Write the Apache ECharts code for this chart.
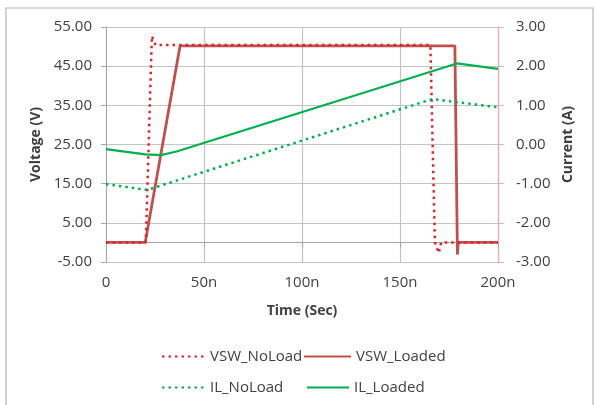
<!DOCTYPE html>
<html>
<head>
<meta charset="utf-8">
<script src="https://cdn.jsdelivr.net/npm/echarts@6/dist/echarts.min.js"></script>
<style>
  html, body { margin: 0; padding: 0; background: #fff; }
  #chart { width: 595px; height: 405px; }
</style>
</head>
<body>
<div id="chart"></div>
<script>
// Switch-node voltage and inductor current, no-load vs loaded (time in ns)
const timeTicks = [0, 50, 100, 150, 200];

const vswNoLoadT = [0, 20.3, 23.4, 24.2, 25.3, 165.5, 167.8, 169.8, 171, 200];
const vswNoLoadV = [0, 0, 52.7, 52.2, 50.4, 50.4, 0, -2.7, 0, 0];

const vswLoadedT = [0, 20.0, 37.8, 178.0, 179.3, 179.7, 200];
const vswLoadedV = [0, 0, 50.2, 50.2, -3.1, 0, 0];

const ilNoLoadT = [0, 21, 166.5, 200];
const ilNoLoadA = [-1.01, -1.16, 1.16, 0.95];

const ilLoadedT = [0, 20, 28, 36, 179, 200];
const ilLoadedA = [-0.12, -0.25, -0.27, -0.18, 2.07, 1.93];

const seriesNames = ['VSW_NoLoad', 'VSW_Loaded', 'IL_NoLoad', 'IL_Loaded'];

const zip = (xs, ys) => xs.map((x, i) => [x, ys[i]]);

const FONT = '"Open Sans", "Liberation Sans", sans-serif';
const TXT = '#404040';
const GRID = '#C4C4C4';
const RED_DOT = '#D9262E';
const RED = '#C0504D';
const GREEN = '#00B050';
const DOTS = [2.5, 4];

const legendBase = {
  orient: 'horizontal',
  itemWidth: 40,
  itemHeight: 12,
  itemGap: 5,
  itemStyle: { opacity: 0, borderWidth: 0 },
  textStyle: { fontFamily: FONT, fontSize: 15, color: TXT },
  selectedMode: false
};

const chart = echarts.init(document.getElementById('chart'), null, { renderer: 'canvas' });

chart.setOption({
  animation: false,
  backgroundColor: '#fff',
  graphic: [{
    type: 'rect',
    shape: { x: 6, y: 8, width: 587, height: 420 },
    style: { fill: 'none', stroke: '#B4B4B4', lineWidth: 1.2 },
    silent: true,
    z: -1
  }],
  grid: { left: 106, right: 97, top: 27, bottom: 143, containLabel: false },
  legend: [
    Object.assign({}, legendBase, { data: [seriesNames[0]], left: 156, top: 344, itemWidth: 43 }),
    Object.assign({}, legendBase, { data: [seriesNames[1]], left: 298, top: 344, itemWidth: 47 }),
    Object.assign({}, legendBase, { data: [seriesNames[2]], left: 156, top: 375, itemWidth: 43 }),
    Object.assign({}, legendBase, { data: [seriesNames[3]], left: 301, top: 375, itemWidth: 42 })
  ],
  xAxis: {
    type: 'value',
    min: timeTicks[0],
    max: timeTicks[timeTicks.length - 1],
    interval: 50,
    name: 'Time (Sec)',
    nameLocation: 'middle',
    nameGap: 42,
    nameTextStyle: { fontFamily: FONT, fontSize: 14, fontWeight: 'bold', color: TXT },
    axisLine: { lineStyle: { color: '#A6A6A6', width: 1 } },
    axisTick: { show: true, length: 5, lineStyle: { color: '#A6A6A6' } },
    axisLabel: {
      margin: 13,
      fontFamily: FONT, fontSize: 15, color: TXT,
      formatter: v => (v === 0 ? '0' : v + 'n')
    },
    splitLine: { show: true, lineStyle: { color: GRID, width: 1.2 } }
  },
  yAxis: [{
    type: 'value',
    position: 'left',
    min: -5,
    max: 55,
    interval: 10,
    name: 'Voltage (V)',
    nameLocation: 'middle',
    nameRotate: 90,
    nameGap: 59,
    nameTextStyle: { fontFamily: FONT, fontSize: 14, fontWeight: 'bold', color: TXT },
    axisLine: { show: true, lineStyle: { color: '#A6A6A6', width: 1 } },
    axisTick: { show: true, length: 5, lineStyle: { color: '#A6A6A6' } },
    axisLabel: {
      margin: 14,
      fontFamily: FONT, fontSize: 15, color: TXT,
      formatter: v => v.toFixed(2)
    },
    splitLine: { show: true, lineStyle: { color: GRID, width: 1.2 } }
  }, {
    type: 'value',
    position: 'right',
    min: -3,
    max: 3,
    interval: 1,
    name: 'Current (A)',
    nameLocation: 'middle',
    nameRotate: 90,
    nameGap: 60,
    nameTextStyle: { fontFamily: FONT, fontSize: 14, fontWeight: 'bold', color: TXT },
    axisLine: { show: true, lineStyle: { color: '#E6B0AF', width: 1.2 } },
    axisTick: { show: true, length: 6, lineStyle: { color: '#E6B0AF' } },
    axisLabel: {
      margin: 18,
      fontFamily: FONT, fontSize: 15, color: TXT,
      formatter: v => v.toFixed(2)
    },
    splitLine: { show: false }
  }],
  series: [{
    name: seriesNames[0],
    type: 'line',
    yAxisIndex: 0,
    data: zip(vswNoLoadT, vswNoLoadV),
    symbol: 'none',
    z: 4,
    color: RED_DOT,
    lineStyle: { color: RED_DOT, width: 2.5, type: DOTS }
  }, {
    name: seriesNames[1],
    type: 'line',
    yAxisIndex: 0,
    data: zip(vswLoadedT, vswLoadedV),
    symbol: 'none',
    z: 3,
    color: RED,
    lineStyle: { color: RED, width: 2.8, type: 'solid' }
  }, {
    name: seriesNames[2],
    type: 'line',
    yAxisIndex: 1,
    data: zip(ilNoLoadT, ilNoLoadA),
    symbol: 'none',
    z: 4,
    color: GREEN,
    lineStyle: { color: GREEN, width: 2.5, type: DOTS }
  }, {
    name: seriesNames[3],
    type: 'line',
    yAxisIndex: 1,
    data: zip(ilLoadedT, ilLoadedA),
    symbol: 'none',
    z: 3,
    color: GREEN,
    lineStyle: { color: GREEN, width: 2.2, type: 'solid' }
  }]
});
</script>
</body>
</html>
